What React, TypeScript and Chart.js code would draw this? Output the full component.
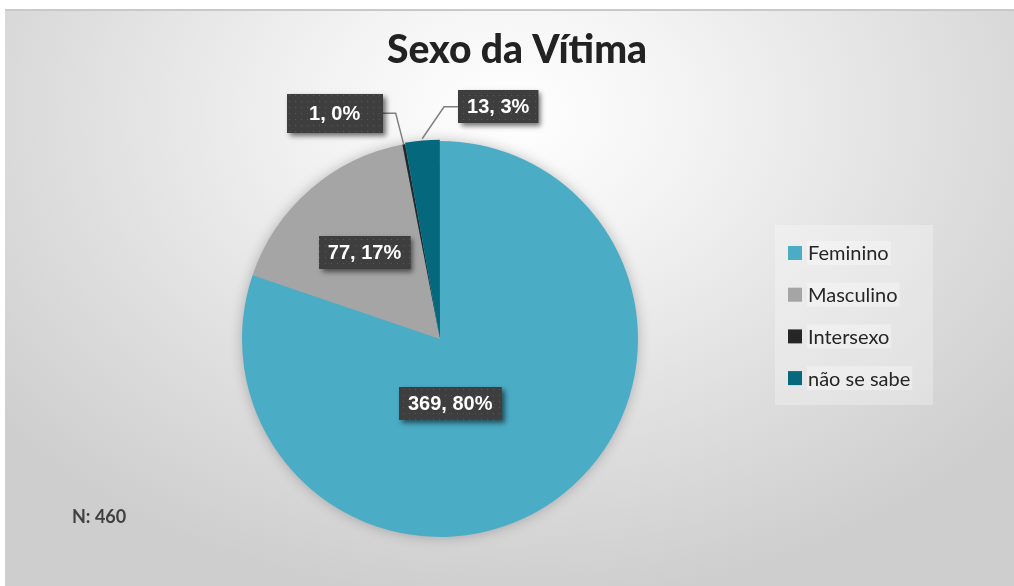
import React, { useEffect, useRef } from 'react';
import { Chart, registerables } from 'chart.js';

Chart.register(...registerables);

const TITLE = 'Sexo da Vítima';
const CATEGORIES = ['Feminino', 'Masculino', 'Intersexo', 'não se sabe'];
const VALUES = [369, 77, 1, 13];
const COLORS = ['#4BACC6', '#A5A5A5', '#262626', '#05687D'];
const NOTE = 'N: 460';

// label placement styles (relative to each arc)
const LABEL_PLACEMENT: any[] = [
  { kind: 'inside', dist: 0.33, angle: 171 },
  { kind: 'inside', dist: 0.58 },
  { kind: 'outside', dx: -69, dy: -31, minW: 96, minH: 39 },
  { kind: 'outside', dx: 76, dy: -32 },
];

const W = 1009;
const H = 577;

function makePattern(ctx: CanvasRenderingContext2D) {
  const p = document.createElement('canvas');
  p.width = 6;
  p.height = 6;
  const c = p.getContext('2d')!;
  c.fillStyle = '#3e3e3e';
  c.fillRect(0, 0, 6, 6);
  c.fillStyle = '#595959';
  c.fillRect(2, 2, 1, 1);
  return ctx.createPattern(p, 'repeat');
}

function drawBox(ctx: CanvasRenderingContext2D, cx: number, cy: number, text: string, minW: number, minH: number) {
  ctx.save();
  ctx.font = 'bold 20px "Liberation Sans", Arial, sans-serif';
  const tw = ctx.measureText(text).width;
  const w = Math.max(tw + 18, minW || 0);
  const h = Math.max(33, minH || 0);
  const x = Math.round(cx - w / 2);
  const y = Math.round(cy - h / 2);
  ctx.shadowColor = 'rgba(0,0,0,0.55)';
  ctx.shadowBlur = 5;
  ctx.shadowOffsetX = 3;
  ctx.shadowOffsetY = 3;
  ctx.fillStyle = '#3e3e3e';
  ctx.fillRect(x, y, w, h);
  ctx.restore();
  ctx.save();
  const pat = makePattern(ctx);
  if (pat) {
    ctx.fillStyle = pat;
    ctx.fillRect(x, y, w, h);
  }
  ctx.font = 'bold 20px "Liberation Sans", Arial, sans-serif';
  ctx.fillStyle = '#ffffff';
  ctx.textAlign = 'center';
  ctx.textBaseline = 'middle';
  ctx.fillText(text, cx, cy + 1);
  ctx.restore();
  return { x, y, w, h };
}

const piePlugin = {
  id: 'customDecor',
  beforeDatasetsDraw(chart: any) {
    const ctx = chart.ctx as CanvasRenderingContext2D;
    const arc = chart.getDatasetMeta(0).data[0];
    if (!arc) return;
    ctx.save();
    ctx.shadowColor = 'rgba(0,0,0,0.28)';
    ctx.shadowBlur = 14;
    ctx.fillStyle = COLORS[0];
    ctx.beginPath();
    ctx.arc(arc.x, arc.y, arc.outerRadius - 1, 0, Math.PI * 2);
    ctx.fill();
    ctx.restore();
  },
  afterDraw(chart: any) {
    const ctx = chart.ctx as CanvasRenderingContext2D;
    // title
    ctx.save();
    ctx.font = '900 39px Lato, "Open Sans", sans-serif';
    ctx.fillStyle = '#222222';
    ctx.textAlign = 'center';
    ctx.textBaseline = 'alphabetic';
    ctx.fillText(TITLE, 512, 54);
    ctx.restore();

    // note
    ctx.save();
    ctx.font = 'bold 18px Lato, "Open Sans", sans-serif';
    ctx.fillStyle = '#404040';
    ctx.textAlign = 'left';
    ctx.textBaseline = 'middle';
    ctx.fillText(NOTE, 67, 508);
    ctx.restore();

    // legend
    ctx.save();
    ctx.fillStyle = 'rgba(255,255,255,0.28)';
    ctx.fillRect(770, 216, 158, 180);
    ctx.font = '20px Lato, "Open Sans", sans-serif';
    ctx.textBaseline = 'middle';
    CATEGORIES.forEach((name, i) => {
      const cy = 244 + i * 41.7;
      const tw = ctx.measureText(name).width;
      ctx.fillStyle = 'rgba(255,255,255,0.3)';
      ctx.fillRect(802, cy - 12, tw + 3, 24);
      ctx.fillStyle = COLORS[i];
      ctx.fillRect(783, cy - 7, 14, 14);
      ctx.fillStyle = '#262626';
      ctx.fillText(name, 803, cy + 1);
    });
    ctx.restore();

    // data labels
    const meta = chart.getDatasetMeta(0);
    const total = VALUES.reduce((a, b) => a + b, 0);
    meta.data.forEach((el: any, i: number) => {
      const pl = LABEL_PLACEMENT[i];
      const text = `${VALUES[i]}, ${Math.round((VALUES[i] / total) * 100)}%`;
      const mid = (el.startAngle + el.endAngle) / 2;
      const off = el.options.offset || 0;
      if (pl.kind === 'inside') {
        const a = pl.angle != null ? ((pl.angle - 90) * Math.PI) / 180 : mid;
        const d = el.outerRadius * pl.dist;
        drawBox(ctx, el.x + Math.cos(a) * d, el.y + Math.sin(a) * d, text, pl.minW, pl.minH);
      } else {
        const r = el.outerRadius + off;
        const ex = el.x + Math.cos(mid) * r;
        const ey = el.y + Math.sin(mid) * r;
        const bx = ex + pl.dx;
        const by = ey + pl.dy;
        ctx.save();
        ctx.font = 'bold 20px "Liberation Sans", Arial, sans-serif';
        const tw = ctx.measureText(text).width;
        const w = Math.max(tw + 18, pl.minW || 0);
        ctx.restore();
        const edgeX = pl.dx < 0 ? bx + w / 2 : bx - w / 2;
        const elbowX = pl.dx < 0 ? edgeX + 13 : edgeX - 14;
        ctx.save();
        ctx.strokeStyle = '#808080';
        ctx.lineWidth = 1.5;
        ctx.beginPath();
        ctx.moveTo(ex, ey);
        ctx.lineTo(elbowX, by);
        ctx.lineTo(edgeX, by);
        ctx.stroke();
        ctx.restore();
        drawBox(ctx, bx, by, text, pl.minW, pl.minH);
      }
    });
  },
};

export default function App() {
  const ref = useRef<HTMLCanvasElement | null>(null);
  useEffect(() => {
    if (!ref.current) return;
    const chart = new Chart(ref.current, {
      type: 'pie',
      data: {
        labels: CATEGORIES,
        datasets: [
          {
            data: VALUES,
            backgroundColor: COLORS,
            borderWidth: 0,
            offset: [0, 0, 0, 3],
          } as any,
        ],
      },
      options: {
        responsive: false,
        animation: false,
        radius: 198,
        layout: { padding: { left: 0, right: 139, top: 100, bottom: 17 } },
        plugins: {
          legend: { display: false },
          title: { display: false },
          tooltip: { enabled: false },
        },
      } as any,
      plugins: [piePlugin],
    });
    return () => chart.destroy();
  }, []);
  return (
    <div
      style={{
        position: 'absolute',
        left: 5,
        top: 9,
        width: W,
        height: H,
        background:
          'radial-gradient(ellipse 65% 85% at 50% 18%, #ffffff 0%, #f3f3f3 28%, #dddddd 70%, #cecece 100%)',
        boxShadow: 'inset 0 2px 0 #c9c9c9',
      }}
    >
      <canvas ref={ref} width={W} height={H} style={{ display: 'block' }} />
    </div>
  );
}
